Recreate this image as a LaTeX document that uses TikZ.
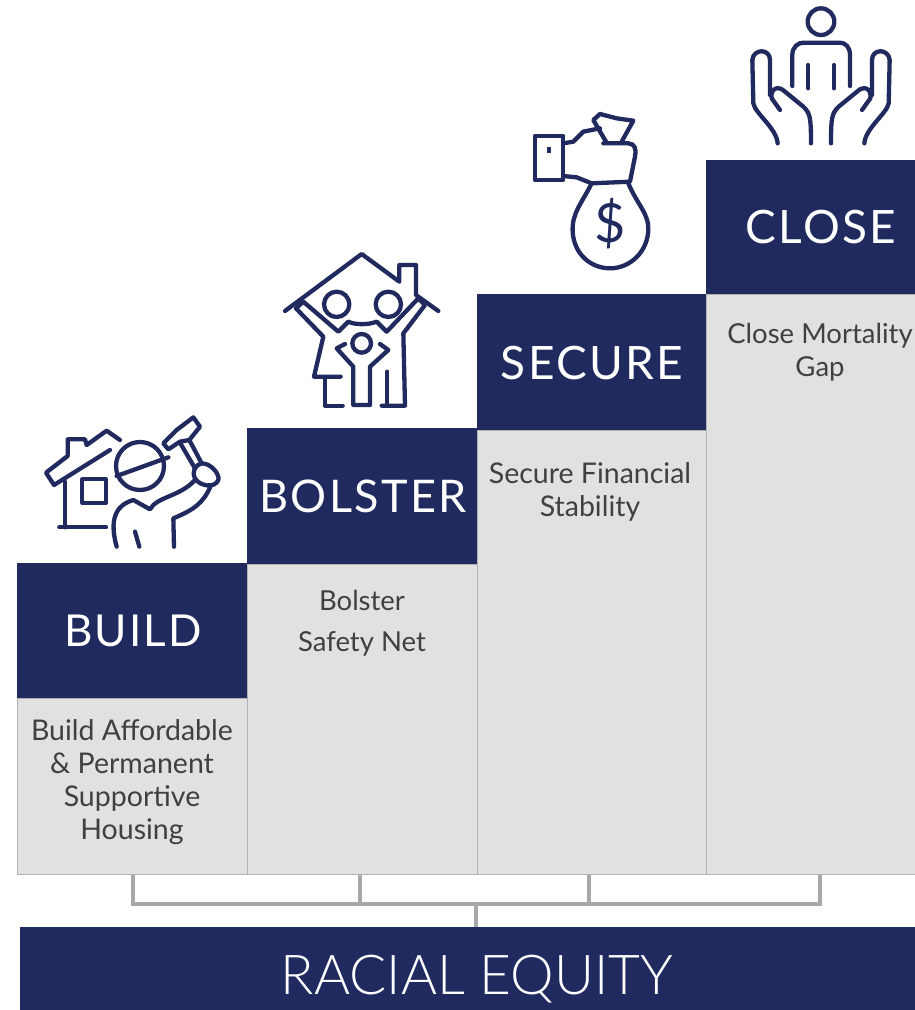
\documentclass[tikz,border=0pt]{standalone}
\usepackage{fontspec}
\setmainfont{Lato}
\newfontfamily\thinfont{Lato Light}
\definecolor{equitynavy}{RGB}{33, 42, 94}
\definecolor{stepgrey}{RGB}{225, 225, 225}
\definecolor{edgegrey}{RGB}{178, 178, 178}
\definecolor{linkgrey}{RGB}{168, 168, 168}
\definecolor{bodyink}{RGB}{64, 64, 68}
\tikzset{
    headbox/.style={fill=equitynavy, draw=none, inner sep=0pt, anchor=north west},
    bodybox/.style={fill=stepgrey, draw=edgegrey, line width=1pt, inner sep=0pt, anchor=north west},
    headtext/.style={text=white, font=\fontsize{46}{46}\selectfont\addfontfeature{LetterSpace=5}},
    bodytext/.style={text=bodyink, align=center, font=\fontsize{28.5}{33}\selectfont},
    link/.style={draw=linkgrey, line width=4pt},
    icon/.style={draw=equitynavy, line width=4.3pt, line join=round, line cap=round}
}
\begin{document}
\begin{tikzpicture}[x=1pt, y=-1pt]
    \useasboundingbox (0,0) rectangle (915,1010);

    % Grey bodies
    \node[bodybox, minimum width=230pt, minimum height=176pt] (buildbody) at (17,698) {};
    \node[bodybox, minimum width=230pt, minimum height=310pt] (bolsterbody) at (247,564) {};
    \node[bodybox, minimum width=229pt, minimum height=444pt] (securebody) at (477,430) {};
    \node[bodybox, minimum width=210pt, minimum height=580pt] (closebody) at (706,294) {};

    % Navy heads
    \node[headbox, minimum width=230pt, minimum height=135pt] (buildhead) at (17,563) {};
    \node[headbox, minimum width=230pt, minimum height=136pt] (bolsterhead) at (247,428) {};
    \node[headbox, minimum width=229pt, minimum height=136pt] (securehead) at (477,294) {};
    \node[headbox, minimum width=209pt, minimum height=134pt] (closehead) at (706,160) {};
    \node[headbox, minimum width=895pt, minimum height=83pt] (equity) at (20,927) {};

    % Labels
    \node[headtext, font=\fontsize{44}{44}\selectfont\addfontfeature{LetterSpace=5}] (buildlabel) at (133,631) {BUILD};
    \node[headtext, font=\fontsize{45}{45}\selectfont\addfontfeature{LetterSpace=5}] (bolsterlabel) at (363,496) {BOLSTER};
    \node[headtext] (securelabel) at (592,363) {SECURE};
    \node[headtext] (closelabel) at (821,227) {CLOSE};
    \node[text=white, font=\thinfont\fontsize{55}{55}\selectfont] (equitylabel) at (477,979) {RACIAL EQUITY};

    \node[bodytext] (buildtext) at (132,782) {Build Affordable\\\& Permanent\\Supportive\\Housing};
    \node[bodytext, font=\fontsize{27.5}{41}\selectfont] (bolstertext) at (362,623) {Bolster\\Safety Net};
    \node[bodytext] (securetext) at (590,492) {Secure Financial\\Stability};
    \node[bodytext, font=\fontsize{27.5}{33}\selectfont] (closetext) at (820,352) {Close Mortality\\Gap};

    % Connections
    \coordinate (tapa) at (133,904);
    \coordinate (tapb) at (360,904);
    \coordinate (tapc) at (589,904);
    \coordinate (tapd) at (820,904);
    \coordinate (bus) at (476,904);
    \draw[link] (tapa |- buildbody.south) -- (tapa);
    \draw[link] (tapb |- bolsterbody.south) -- (tapb);
    \draw[link] (tapc |- securebody.south) -- (tapc);
    \draw[link] (tapd |- closebody.south) -- (tapd);
    \draw[link, line cap=rect] (tapa) -- (tapd);
    \draw[link] (bus) -- (bus |- equity.north);

    % Builder
    \begin{scope}[shift={(20,400)}, scale=1/3]
        \draw[icon] (300,120) -- (260,92) -- (200,135) -- (195,118) -- (143,118) -- (143,168) -- (78,218) -- (102,255) -- (270,150);
        \draw[icon] (135,245) -- (135,382);
        \draw[icon] (118,382) -- (258,382);
        \draw[icon] (187,238) rectangle (258,308);
        \draw[icon] (360,198) circle (72);
        \draw[icon] (290,228) -- (445,172);
        \draw[icon] (445,148) -- (430,130) -- (470,90) -- (520,52) -- (540,80) -- (508,120) -- (480,125) -- cycle;
        \draw[icon] (480,128) -- (525,205);
        \draw[icon] (508,120) -- (545,190);
        \draw[icon] (545,190) .. controls (575,190) and (600,225) .. (595,240) .. controls (585,265) and (540,260) .. (525,235) .. controls (515,215) and (525,195) .. (545,190);
        \draw[icon] (290,440) .. controls (275,385) and (270,320) .. (340,300) -- (390,328) .. controls (410,290) and (480,290) .. (525,240);
        \draw[icon] (462,440) -- (460,355) .. controls (520,330) and (550,310) .. (572,258);
        \draw[icon] (345,395) -- (358,440);
    \end{scope}

    % Family
    \begin{scope}[shift={(270,240)}, scale=1/3]
        \draw[icon] (45,213) -- (275,42) -- (388,125) -- (388,75) -- (438,75) -- (438,165) -- (505,213);
        \draw[icon] (78,205) -- (100,185) -- (205,275) -- (235,245) .. controls (255,255) and (295,255) .. (320,245) -- (350,275) -- (445,175) -- (465,195) -- (400,280) -- (405,497) -- (335,497);
        \draw[icon] (78,205) -- (160,290) -- (132,410) -- (212,410);
        \draw[icon] (165,415) -- (165,497) -- (218,497);
        \draw[icon] (200,193) circle (38);
        \draw[icon] (355,193) circle (38);
        \draw[icon] (275,310) circle (28);
        \draw[icon] (225,312) -- (200,325) -- (250,380) -- (250,495) -- (300,495) -- (300,380) -- (355,330) -- (330,312);
        \draw[icon] (352,395) -- (352,495);
    \end{scope}

    % Money bag
    \begin{scope}[shift={(520,100)}, scale=1/3]
        \draw[icon] (45,108) rectangle (130,240);
        \fill[equitynavy] (82,142) rectangle (94,158);
        \draw[icon] (130,130) -- (160,125) -- (190,95) -- (240,85);
        \draw[icon] (250,130) -- (325,130) .. controls (345,130) and (350,150) .. (345,170) -- (330,245) -- (215,250) -- (170,232) -- (130,228);
        \draw[icon] (258,125) -- (220,60) -- (240,42) -- (290,55) -- (340,62) -- (305,125);
        \draw[icon] (215,250) .. controls (185,310) and (155,340) .. (158,395) .. controls (162,465) and (215,505) .. (270,505) .. controls (330,505) and (385,455) .. (385,385) .. controls (385,340) and (350,310) .. (325,250);
        \node[text=equitynavy, font=\fontsize{54}{54}\selectfont] (dollar) at (270,372) {\$};
    \end{scope}

    % Person in hands
    \begin{scope}[shift={(735,0)}, scale=1/3]
        \draw[icon] (258,65) circle (40);
        \draw[icon] (172,258) -- (172,165) .. controls (172,140) and (190,128) .. (205,128) -- (315,128) .. controls (330,128) and (345,140) .. (345,165) -- (345,258);
        \draw[icon] (220,195) -- (220,265);
        \draw[icon] (297,195) -- (297,265);
        \draw[icon] (128,430) .. controls (125,385) and (60,340) .. (55,310) -- (52,180) .. controls (55,145) and (105,145) .. (105,180) -- (105,285);
        \draw[icon] (135,330) -- (110,295) .. controls (105,265) and (130,255) .. (150,275) -- (205,320) .. controls (225,340) and (228,350) .. (228,430);
        \draw[icon] (388,430) .. controls (391,385) and (456,340) .. (461,310) -- (464,180) .. controls (461,145) and (411,145) .. (411,180) -- (411,285);
        \draw[icon] (381,330) -- (406,295) .. controls (411,265) and (386,255) .. (366,275) -- (311,320) .. controls (291,340) and (288,350) .. (288,430);
    \end{scope}
\end{tikzpicture}
\end{document}
